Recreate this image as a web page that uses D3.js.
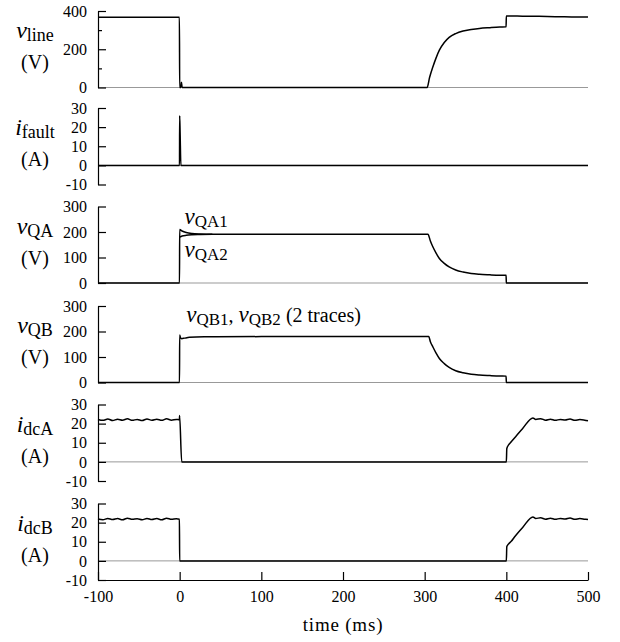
<!DOCTYPE html>
<html>
<head>
<meta charset="utf-8">
<script src="https://cdn.jsdelivr.net/npm/d3@7"></script>
<style>
body { margin:0; background:#fff; }
.trace { fill:none; stroke:#000; stroke-width:1.5; stroke-linejoin:round; }
.zero { stroke:#999; stroke-width:1; }
.axis path, .axis line { stroke:#000; stroke-width:1.2; }
</style>
</head>
<body>
<script>
var serif = "Liberation Serif";

//time ticks (ms)
var xTicks = [-100, 0, 100, 200, 300, 400, 500];

//line voltage (V)
var vlineT = [-100, -0.3, 0, 1.5, 2.2, 3, 303, 306, 310, 314, 318, 324, 330, 338, 347, 357, 367, 380, 392, 399.7, 400, 420, 440, 460, 480, 500];
var vlineV = [367, 367, 0, 0, 27, 0, 0, 52, 107, 155, 195, 235, 262, 282, 295, 303, 309, 313, 316, 317, 374, 373, 372, 370, 369, 368];

//fault current (A)
var ifaultT = [-100, -50, -0.2, 0, 0.5, 1.5, 3, 100, 200, 300, 400, 500];
var ifaultV = [0, 0, 0, 26, 18, 0, 0, 0, 0, 0, 0, 0];

//switch voltages, bank A (V)
var vQA1T = [-100, -0.2, 0, 3, 8, 15, 25, 40, 100, 200, 304, 307, 310, 314, 318, 324, 330, 338, 347, 357, 367, 380, 392, 399.7, 400, 500];
var vQA1V = [0, 0, 210, 204, 198, 194, 192, 191, 191, 191, 191, 165, 142, 117, 96, 77, 63, 51, 43, 37, 34, 32, 30.5, 30, 0, 0];
var vQA2T = [0, 3, 8, 15, 25, 40];
var vQA2V = [180, 184, 187, 189, 190, 191];

//switch voltages, bank B (V)
var vQBT = [-100, -0.2, 0, 1, 2.5, 6, 12, 30, 100, 200, 305, 307, 310, 314, 318, 324, 330, 338, 347, 357, 367, 380, 392, 399.7, 400, 500];
var vQBV = [0, 0, 186, 176, 172, 174, 177, 179, 180, 180, 180, 160, 140, 115, 94, 74, 59, 46, 38, 32, 29, 27, 25.5, 25, 0, 0];

//dc currents (A)
var idcAT = [-100, -94, -88, -82, -76, -70, -64, -58, -52, -46, -40, -34, -28, -22, -16, -10, -4, -0.3, -0.1, 2.5, 400, 400.6, 403, 406, 410, 420, 432.5, 436, 442, 448, 454, 460, 466, 472, 478, 484, 490, 496, 500];
var idcAV = [22.2, 21.7, 22.4, 21.6, 22.3, 21.8, 22.5, 21.7, 22.2, 21.6, 22.4, 21.8, 22.3, 21.7, 22.5, 21.8, 22.2, 22.0, 24.2, 0, 0, 7, 9, 10.5, 12.5, 17.5, 23, 22.2, 22.6, 21.8, 22.3, 21.7, 22.2, 21.9, 22.4, 21.7, 22.1, 21.8, 21.5];
var idcBT = [-100, -94, -88, -82, -76, -70, -64, -58, -52, -46, -40, -34, -28, -22, -16, -10, -4, -0.3, 0, 400, 400.6, 403, 406, 410, 420, 432.5, 436, 442, 448, 454, 460, 466, 472, 478, 484, 490, 496, 500];
var idcBV = [21.9, 21.5, 22.2, 21.6, 22.1, 21.5, 22.3, 21.7, 22.0, 21.5, 22.2, 21.6, 22.1, 21.5, 22.3, 21.7, 22.0, 21.8, 0, 0, 7.5, 9, 10.2, 12.5, 17.5, 23, 22.2, 22.5, 21.8, 22.3, 21.7, 22.2, 21.9, 22.4, 21.7, 22.1, 21.8, 21.6];

//panel set up
var panels = [
  {top:11,    domain:[0,400],   ticks:[0,200,400],        minor:[100,300], sym:"v", sub:"line",  unit:"(V)", traces:[[vlineT, vlineV]]},
  {top:108,   domain:[-10,30],  ticks:[-10,0,10,20,30],   minor:[],        sym:"i", sub:"fault", unit:"(A)", traces:[[ifaultT, ifaultV]]},
  {top:206.5, domain:[0,300],   ticks:[0,100,200,300],    minor:[],        sym:"v", sub:"QA",    unit:"(V)", traces:[[vQA1T, vQA1V], [vQA2T, vQA2V]]},
  {top:306,   domain:[0,300],   ticks:[0,100,200,300],    minor:[],        sym:"v", sub:"QB",    unit:"(V)", traces:[[vQBT, vQBV]]},
  {top:404.5, domain:[-10,30],  ticks:[-10,0,10,20,30],   minor:[],        sym:"i", sub:"dcA",   unit:"(A)", traces:[[idcAT, idcAV]]},
  {top:503.5, domain:[-10,30],  ticks:[-10,0,10,20,30],   minor:[],        sym:"i", sub:"dcB",   unit:"(A)", traces:[[idcBT, idcBV]]}
];
var panelH = 76.5;

var svg = d3.select("body").append("svg")
  .attr("width", 620)
  .attr("height", 642)
  .attr("font-family", serif);

var x = d3.scaleLinear().domain([-100, 500]).range([98, 588]);

panels.forEach(function(p){
  var y = d3.scaleLinear().domain(p.domain).range([p.top + panelH, p.top]);
  p.y = y;

  //zero line
  svg.append("line")
    .attr("class", "zero")
    .attr("x1", x(-100)).attr("x2", x(500))
    .attr("y1", y(0)).attr("y2", y(0));

  //traces
  var line = d3.line()
    .x(function(d){ return x(d[0]); })
    .y(function(d){ return y(d[1]); })
    .curve(d3.curveMonotoneX);
  p.traces.forEach(function(tr){
    var pts = tr[0].map(function(t, i){ return [t, tr[1][i]]; });
    svg.append("path")
      .datum(pts)
      .attr("class", "trace")
      .attr("d", line);
  });

  //y axis, ticks inward
  var ax = svg.append("g")
    .attr("class", "axis")
    .attr("transform", "translate(" + x(-100) + ",0)")
    .call(d3.axisLeft(y).tickValues(p.ticks).tickSize(-8).tickSizeOuter(0).tickPadding(11)
      .tickFormat(function(d){ return String(d); }));
  ax.attr("font-family", serif).attr("font-size", 16);
  ax.selectAll("text").attr("font-family", serif).attr("font-size", 16);
  if (p.minor.length) {
    svg.append("g")
      .attr("class", "axis")
      .attr("transform", "translate(" + x(-100) + ",0)")
      .call(d3.axisLeft(y).tickValues(p.minor).tickSize(-4).tickSizeOuter(0).tickFormat(""))
      .select(".domain").remove();
  }

  //panel label
  var lab = svg.append("text")
    .attr("x", 35).attr("y", p.top + 27)
    .attr("font-family", serif)
    .attr("text-anchor", "middle");
  lab.append("tspan").attr("font-style", "italic").attr("font-size", 24).text(p.sym);
  lab.append("tspan").attr("font-size", 18).attr("dy", 3).text(p.sub);
  svg.append("text")
    .attr("x", 35).attr("y", p.top + 58)
    .attr("font-family", serif)
    .attr("text-anchor", "middle")
    .attr("font-size", 20)
    .text(p.unit);
});

//x axis at bottom of last panel
var bottom = panels[5].top + panelH;
var xAxis = svg.append("g")
  .attr("class", "axis")
  .attr("transform", "translate(0," + bottom + ")")
  .call(d3.axisBottom(x).tickValues(xTicks).tickSize(-8).tickSizeOuter(0).tickPadding(11)
    .tickFormat(function(d){ return String(d); }));
xAxis.attr("font-family", serif).attr("font-size", 16);
xAxis.selectAll("text").attr("font-family", serif).attr("font-size", 16);

//label for x axis
svg.append("text")
  .attr("x", x(200)).attr("y", bottom + 51)
  .attr("font-family", serif)
  .attr("text-anchor", "middle")
  .attr("font-size", 19)
  .attr("letter-spacing", "0.8px")
  .text("time (ms)");

//trace annotations
function mathLabel(xp, yp, parts){
  var t = svg.append("text").attr("x", xp).attr("y", yp).attr("font-family", serif);
  parts.forEach(function(s){
    var ts = t.append("tspan").text(s.t);
    if (s.it) ts.attr("font-style", "italic").attr("font-size", 23);
    else if (s.sub) ts.attr("font-size", 17);
    else ts.attr("font-size", 20);
    if (s.dy) ts.attr("dy", s.dy);
  });
}
var pA = panels[2], pB = panels[3];
mathLabel(x(6), pA.y(232), [{t:"v", it:true}, {t:"QA1", sub:true, dy:3}]);
mathLabel(x(6), pA.y(102), [{t:"v", it:true}, {t:"QA2", sub:true, dy:3}]);
mathLabel(x(8), pB.y(238), [{t:"v", it:true}, {t:"QB1", sub:true, dy:3}, {t:", ", dy:-3},
  {t:"v", it:true}, {t:"QB2", sub:true, dy:3}, {t:" (2 traces)", dy:-3}]);
</script>
</body>
</html>
